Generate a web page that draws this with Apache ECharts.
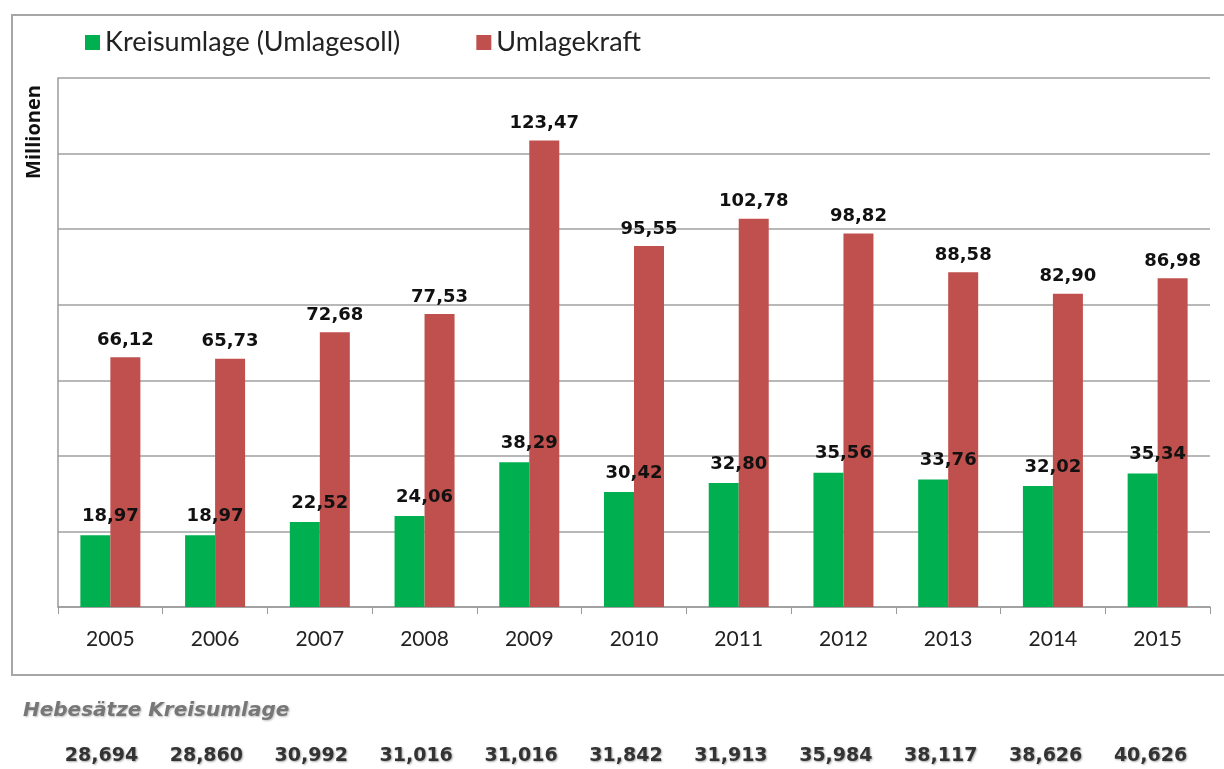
<!DOCTYPE html>
<html>
<head>
<meta charset="utf-8">
<script src="https://cdn.jsdelivr.net/npm/echarts@6/dist/echarts.min.js"></script>
<style>
html, body { margin: 0; padding: 0; background: #fff; }
#chart { width: 1224px; height: 769px; }
</style>
</head>
<body>
<div id="chart"></div>
<script>
var years = ['2005', '2006', '2007', '2008', '2009', '2010', '2011', '2012', '2013', '2014', '2015'];
var kreisumlage = [18.97, 18.97, 22.52, 24.06, 38.29, 30.42, 32.80, 35.56, 33.76, 32.02, 35.34];
var umlagekraft = [66.12, 65.73, 72.68, 77.53, 123.47, 95.55, 102.78, 98.82, 88.58, 82.90, 86.98];
var hebesaetze = ['28,694', '28,860', '30,992', '31,016', '31,016', '31,842', '31,913', '35,984', '38,117', '38,626', '40,626'];

var chart = echarts.init(document.getElementById('chart'));

// Zahlen mit Komma statt Punkt
function fmt(p) {
    return p.value.toFixed(2).replace('.', ',');
}

var labelStyle = {
    show: true,
    position: 'top',
    fontFamily: 'DejaVu Sans',
    fontWeight: 'bold',
    fontSize: 18,
    color: '#111',
    formatter: fmt
};

var option = {
    animation: false,
    backgroundColor: '#fff',
    textStyle: { fontFamily: 'Lato' },
    title: {
        text: 'Hebesätze Kreisumlage',
        left: 18,
        top: 696,
        textStyle: {
            fontFamily: 'DejaVu Sans',
            fontStyle: 'italic',
            fontWeight: 'bold',
            fontSize: 20,
            color: '#777',
            textShadowColor: 'rgba(0,0,0,0.25)',
            textShadowBlur: 2,
            textShadowOffsetX: 1,
            textShadowOffsetY: 1
        }
    },
    legend: {
        left: 80,
        top: 24,
        itemWidth: 15,
        itemHeight: 15,
        itemGap: 76,
        icon: 'rect',
        textStyle: { fontFamily: 'Lato', fontSize: 27, color: '#222' },
        data: ['Kreisumlage (Umlagesoll)', 'Umlagekraft']
    },
    graphic: [
        {
            type: 'rect',
            shape: { x: 12, y: 15, width: 1230, height: 660 },
            style: { fill: 'none', stroke: '#a6a6a6', lineWidth: 2 },
            z: -1
        },
        {
            type: 'text',
            x: 34,
            y: 132,
            rotation: Math.PI / 2,
            style: {
                text: 'Millionen',
                fontFamily: 'Open Sans',
                fontWeight: 'bold',
                fontSize: 20,
                fill: '#111',
                align: 'center',
                verticalAlign: 'middle'
            }
        }
    ],
    grid: [
        { left: 58, right: 14, top: 78, bottom: 162 },
        { left: 49, right: 21, top: 732, height: 10 }
    ],
    xAxis: [
        {
            type: 'category',
            data: years,
            axisLine: { lineStyle: { color: '#9a9a9a', width: 1.5 } },
            axisTick: { show: true, length: 7, lineStyle: { color: '#9a9a9a' } },
            axisLabel: { fontFamily: 'Lato', fontSize: 21, color: '#222', margin: 22 }
        },
        {
            type: 'category',
            gridIndex: 1,
            data: hebesaetze,
            axisLine: { show: false },
            axisTick: { show: false },
            axisLabel: {
                margin: 5,
                fontFamily: 'DejaVu Sans',
                fontWeight: 'bold',
                fontSize: 19,
                color: '#333',
                textShadowColor: 'rgba(0,0,0,0.35)',
                textShadowBlur: 2,
                textShadowOffsetX: 1,
                textShadowOffsetY: 1
            }
        }
    ],
    yAxis: [
        {
            type: 'value',
            min: 0,
            max: 140,
            interval: 20,
            axisLabel: { show: false },
            axisTick: { show: false },
            axisLine: { show: true, lineStyle: { color: '#9a9a9a', width: 1.5 } },
            splitLine: { lineStyle: { color: '#a0a0a0', width: 1.5 } }
        },
        { type: 'value', gridIndex: 1, show: false }
    ],
    series: [
        {
            name: 'Kreisumlage (Umlagesoll)',
            type: 'bar',
            data: kreisumlage,
            barWidth: 30,
            barGap: '0%',
            itemStyle: { color: '#00b050' },
            label: Object.assign({}, labelStyle, { offset: [15, -2], distance: 8 })
        },
        {
            name: 'Umlagekraft',
            type: 'bar',
            data: umlagekraft,
            barWidth: 30,
            itemStyle: { color: '#c0504d' },
            label: Object.assign({}, labelStyle, { distance: 8 })
        }
    ]
};

chart.setOption(option);
</script>
</body>
</html>
